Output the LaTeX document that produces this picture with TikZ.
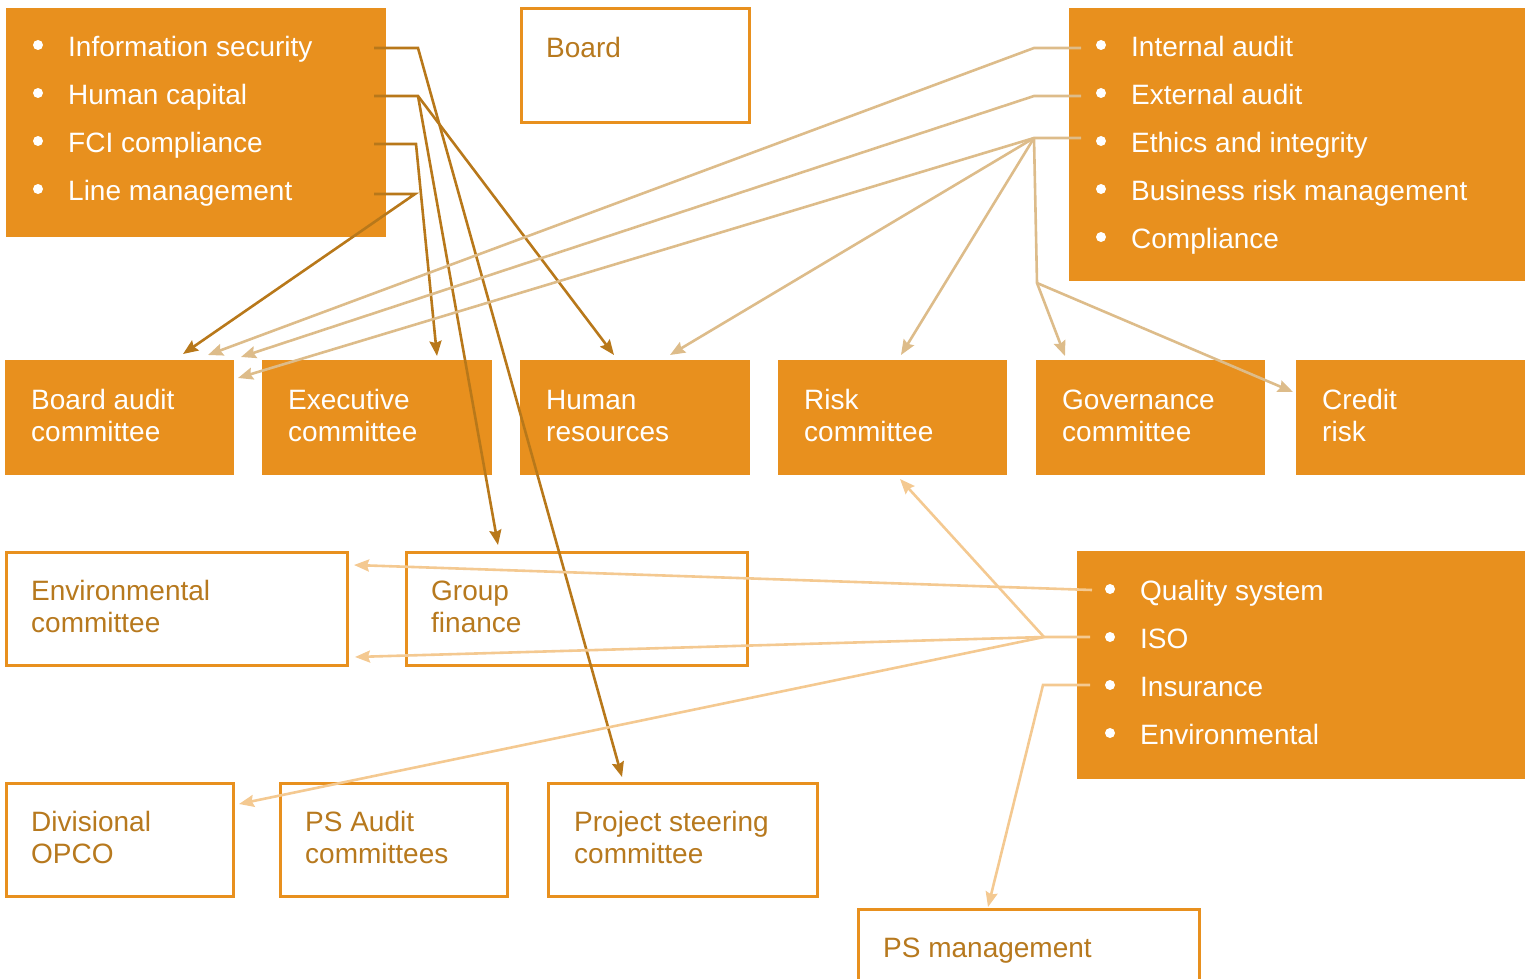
\documentclass[tikz,border=0pt]{standalone}
\usepackage{fontspec}
\setmainfont{Liberation Sans}
\usetikzlibrary{arrows.meta,calc}

\definecolor{boxorange}{RGB}{232,144,30}
\definecolor{inkgold}{RGB}{184,120,26}
\definecolor{textgold}{RGB}{183,121,30}
\definecolor{tanline}{RGB}{221,188,138}
\definecolor{peach}{RGB}{244,201,145}

\begin{document}
\begin{tikzpicture}[x=1pt,y=-1pt,
  fillbox/.style={fill=boxorange, draw=none, inner sep=0pt, outer sep=0pt, anchor=north west},
  framebox/.style={draw=boxorange, fill=white, line width=3pt, inner sep=0pt, outer sep=0pt, anchor=north west},
  wlabel/.style={text=white, font=\fontsize{28}{32}\selectfont, inner sep=0pt, anchor=base west, yshift=-1.5pt},
  glabel/.style={wlabel, text=textgold},
  dot/.style={circle, fill=white, draw=none, minimum size=10pt, inner sep=0pt},
  tip/.style={-{Stealth[length=15pt,width=12pt,inset=2pt]}},
  darklink/.style={draw=inkgold, line width=2.6pt},
  tanlink/.style={draw=tanline, line width=2.6pt},
  peachlink/.style={draw=peach, line width=2.6pt},
]
\useasboundingbox (0,0) rectangle (1528,979);

% ---------- boxes ----------
\node[fillbox, minimum width=380pt, minimum height=229pt] (tl) at (6,8) {};
\node[framebox, minimum width=228pt, minimum height=114pt] (board) at (521,9) {};
\node[fillbox, minimum width=456pt, minimum height=273pt] (tr) at (1069,8) {};

\node[fillbox, minimum width=229pt, minimum height=115pt] (bac) at (5,360) {};
\node[fillbox, minimum width=230pt, minimum height=115pt] (exec) at (262,360) {};
\node[fillbox, minimum width=230pt, minimum height=115pt] (hr) at (520,360) {};
\node[fillbox, minimum width=229pt, minimum height=115pt] (risk) at (778,360) {};
\node[fillbox, minimum width=229pt, minimum height=115pt] (gov) at (1036,360) {};
\node[fillbox, minimum width=229pt, minimum height=115pt] (credit) at (1296,360) {};

\node[framebox, minimum width=341pt, minimum height=113pt] (env) at (6,552) {};
\node[framebox, minimum width=341pt, minimum height=113pt] (gf) at (406,552) {};
\node[fillbox, minimum width=448pt, minimum height=228pt] (br) at (1077,551) {};

\node[framebox, minimum width=227pt, minimum height=113pt] (opco) at (6,783) {};
\node[framebox, minimum width=227pt, minimum height=113pt] (psa) at (280,783) {};
\node[framebox, minimum width=269pt, minimum height=113pt] (psc) at (548,783) {};
\node[framebox, minimum width=341pt, minimum height=100pt] (psm) at (858,909) {};

% ---------- list: top left ----------
\node[dot] (tl-d1) at (38,45) {};
\node[dot] (tl-d2) at (38,93) {};
\node[dot] (tl-d3) at (38,141) {};
\node[dot] (tl-d4) at (38,189) {};
\node[wlabel] (tl-t1) at (68,55) {Information security};
\node[wlabel] (tl-t2) at (68,103) {Human capital};
\node[wlabel] (tl-t3) at (68,151) {FCI compliance};
\node[wlabel] (tl-t4) at (68,199) {Line management};

% ---------- list: top right ----------
\node[dot] (tr-d1) at (1101,45) {};
\node[dot] (tr-d2) at (1101,93) {};
\node[dot] (tr-d3) at (1101,141) {};
\node[dot] (tr-d4) at (1101,189) {};
\node[dot] (tr-d5) at (1101,237) {};
\node[wlabel] (tr-t1) at (1131,55) {Internal audit};
\node[wlabel] (tr-t2) at (1131,103) {External audit};
\node[wlabel] (tr-t3) at (1131,151) {Ethics and integrity};
\node[wlabel] (tr-t4) at (1131,199) {Business risk management};
\node[wlabel] (tr-t5) at (1131,247) {Compliance};

% ---------- list: bottom right ----------
\node[dot] (br-d1) at (1110,589) {};
\node[dot] (br-d2) at (1110,637) {};
\node[dot] (br-d3) at (1110,685) {};
\node[dot] (br-d4) at (1110,733) {};
\node[wlabel] (br-t1) at (1140,599) {Quality system};
\node[wlabel] (br-t2) at (1140,647) {ISO};
\node[wlabel] (br-t3) at (1140,695) {Insurance};
\node[wlabel] (br-t4) at (1140,743) {Environmental};

% ---------- box labels ----------
\node[glabel] (board-l) at (546,56) {Board};

\node[wlabel] (bac-l1) at (31,408) {Board audit};
\node[wlabel] (bac-l2) at (31,440) {committee};
\node[wlabel] (exec-l1) at (288,408) {Executive};
\node[wlabel] (exec-l2) at (288,440) {committee};
\node[wlabel] (hr-l1) at (546,408) {Human};
\node[wlabel] (hr-l2) at (546,440) {resources};
\node[wlabel] (risk-l1) at (804,408) {Risk};
\node[wlabel] (risk-l2) at (804,440) {committee};
\node[wlabel] (gov-l1) at (1062,408) {Governance};
\node[wlabel] (gov-l2) at (1062,440) {committee};
\node[wlabel] (credit-l1) at (1322,408) {Credit};
\node[wlabel] (credit-l2) at (1322,440) {risk};

\node[glabel] (env-l1) at (31,599) {Environmental};
\node[glabel] (env-l2) at (31,631) {committee};
\node[glabel] (gf-l1) at (431,599) {Group};
\node[glabel] (gf-l2) at (431,631) {finance};

\node[glabel] (opco-l1) at (31,830) {Divisional};
\node[glabel] (opco-l2) at (31,862) {OPCO};
\node[glabel] (psa-l1) at (305,830) {PS Audit};
\node[glabel] (psa-l2) at (305,862) {committees};
\node[glabel] (psc-l1) at (574,830) {Project steering};
\node[glabel] (psc-l2) at (574,862) {committee};
\node[glabel] (psm-l) at (883,956) {PS management};

% ---------- connector points ----------
% stubs leaving the top-left list
\coordinate (a1) at (374,48);  \coordinate (k1) at (418,48);
\coordinate (a2) at (374,96);  \coordinate (k2) at (418,96);
\coordinate (a3) at (374,144); \coordinate (k3) at (416,144);
\coordinate (a4) at (374,194); \coordinate (k4) at (415,194);
% stubs leaving the top-right list
\coordinate (b1) at (1081,48);  \coordinate (j1) at (1034,48);
\coordinate (b2) at (1081,96);  \coordinate (j2) at (1034,96);
\coordinate (b3) at (1081,138); \coordinate (j3) at (1034,138);
\coordinate (j4) at (1037,283);
% stubs leaving the bottom-right list
\coordinate (c1) at (1092,590);
\coordinate (c2) at (1090,637); \coordinate (i2) at (1044,637);
\coordinate (c3) at (1090,685); \coordinate (i3) at (1043,685);
% arrow ends
\coordinate (bac-e1) at (183,354);
\coordinate (bac-e2) at (208,355);
\coordinate (bac-e3) at (241,357);
\coordinate (bac-e4) at (238,378);
\coordinate (exec-e) at (437,356);
\coordinate (hr-e1) at (614,355);
\coordinate (hr-e2) at (670,355);
\coordinate (risk-e1) at (901,355);
\coordinate (risk-e2) at (900,479);
\coordinate (gov-e) at (1065,356);
\coordinate (credit-e) at (1293,392);
\coordinate (gf-e) at (498,545);
\coordinate (env-e1) at (354,565);
\coordinate (env-e2) at (355,657);
\coordinate (opco-e) at (239,804);
\coordinate (psc-e) at (622,777);
\coordinate (psm-e) at (988,907);

% ---------- connectors ----------
\draw[darklink, tip] (a1) -- (k1) -- (psc-e);
\draw[darklink, tip] (a2) -- (k2) -- (hr-e1);
\draw[darklink, tip] (k2) -- (gf-e);
\draw[darklink, tip] (a3) -- (k3) -- (exec-e);
\draw[darklink, tip] (a4) -- (k4) -- (bac-e1);

\draw[tanlink, tip] (b1) -- (j1) -- (bac-e2);
\draw[tanlink, tip] (b2) -- (j2) -- (bac-e3);
\draw[tanlink, tip] (b3) -- (j3) -- (bac-e4);
\draw[tanlink, tip] (j3) -- (hr-e2);
\draw[tanlink, tip] (j3) -- (risk-e1);
\draw[tanlink, tip] (j3) -- (j4) -- (gov-e);
\draw[tanlink, tip] (j4) -- (credit-e);

\draw[peachlink, tip] (c1) -- (env-e1);
\draw[peachlink, tip] (c2) -- (i2) -- (env-e2);
\draw[peachlink, tip] (i2) -- (opco-e);
\draw[peachlink, tip] (i2) -- (risk-e2);
\draw[peachlink, tip] (c3) -- (i3) -- (psm-e);
\end{tikzpicture}
\end{document}
